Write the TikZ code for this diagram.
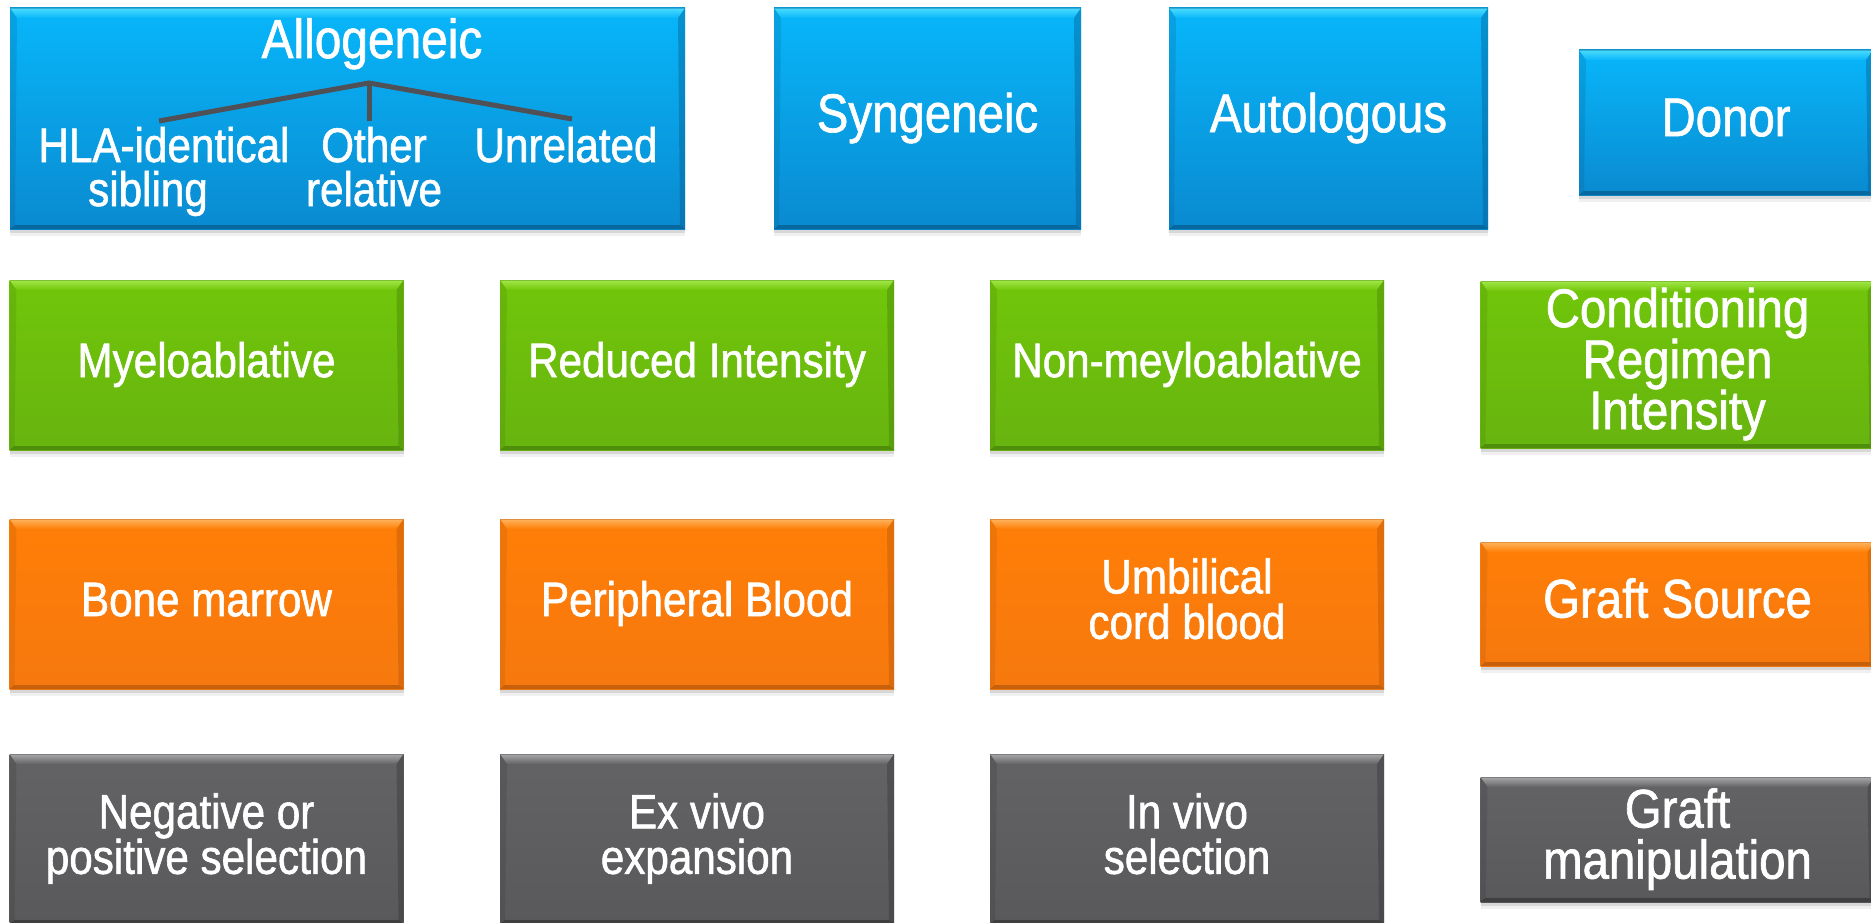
\documentclass[tikz,border=0pt]{standalone}
\usepackage{fontspec}
\setmainfont{Liberation Sans}[FakeStretch=0.87, FakeBold=1.2]
\usetikzlibrary{shadows}

% tile palettes: top, bottom, bevel highlight, bevel shade
\definecolor{blueA}{HTML}{08B6FA}\definecolor{blueB}{HTML}{0A8AD0}
\definecolor{blueHi}{HTML}{4CDCFF}\definecolor{blueLo}{HTML}{05507F}
\definecolor{greenA}{HTML}{71C60A}\definecolor{greenB}{HTML}{67B40F}
\definecolor{greenHi}{HTML}{A2E848}\definecolor{greenLo}{HTML}{3F7508}
\definecolor{orangeA}{HTML}{FF7E06}\definecolor{orangeB}{HTML}{F6790F}
\definecolor{orangeHi}{HTML}{FFB45E}\definecolor{orangeLo}{HTML}{A9500A}
\definecolor{grayA}{HTML}{636365}\definecolor{grayB}{HTML}{59595B}
\definecolor{grayHi}{HTML}{A8A8AA}\definecolor{grayLo}{HTML}{2F2F31}
\definecolor{branchcol}{HTML}{4F5157}

% strut: 0.75em above, 0.25em below the baseline
\newcommand\ts{\rule[-0.25em]{0pt}{1em}}
\newcommand\smallfont{\fontsize{48.5}{45.4}\selectfont\lineskiplimit=-1000pt\relax}
\newcommand\bigfont{\fontsize{54.5}{51}\selectfont\lineskiplimit=-1000pt\relax}

\tikzset{
  tile/.style n args={4}{rectangle, inner sep=0pt, text=white, align=center,
    font=\smallfont, top color=#1, bottom color=#2,
    drop shadow={shadow xshift=0pt, shadow yshift=-7pt, opacity=.12},
    drop shadow={shadow xshift=0pt, shadow yshift=-3.5pt, opacity=.22},
    /utils/exec={\colorlet{bvbase}{#1}\colorlet{bvhi}{#3}\colorlet{bvlo}{#4}},
    path picture={
      \coordinate (nw) at (path picture bounding box.north west);
      \coordinate (ne) at (path picture bounding box.north east);
      \coordinate (sw) at (path picture bounding box.south west);
      \coordinate (se) at (path picture bounding box.south east);
      \shade[top color=bvhi, bottom color=bvbase] (nw) -- (ne) -- ([xshift=-7pt,yshift=-10pt]ne) -- ([xshift=7pt,yshift=-10pt]nw) -- cycle;
      \fill[bvlo, opacity=.6] (sw) -- (se) -- ([xshift=-5pt,yshift=4pt]se) -- ([xshift=5pt,yshift=4pt]sw) -- cycle;
      \fill[bvlo, opacity=.35] (ne) -- ([xshift=-7pt,yshift=-10pt]ne) -- ([xshift=-5pt,yshift=4pt]se) -- (se) -- cycle;
      \fill[bvlo, opacity=.18] (nw) -- ([xshift=7pt,yshift=-10pt]nw) -- ([xshift=5pt,yshift=4pt]sw) -- (sw) -- cycle;
      \draw[bvlo, opacity=.35, line width=1.5pt] (nw) -- (ne);
    }},
  bluetile/.style={tile={blueA}{blueB}{blueHi}{blueLo}},
  greentile/.style={tile={greenA}{greenB}{greenHi}{greenLo}},
  orangetile/.style={tile={orangeA}{orangeB}{orangeHi}{orangeLo}},
  graytile/.style={tile={grayA}{grayB}{grayHi}{grayLo}},
  cell/.style={minimum width=394pt, minimum height=170pt},
  lbl/.style={text=white, inner sep=0pt, anchor=base, font=\smallfont},
  branch/.style={draw=branchcol, line width=5pt},
}

\begin{document}
\begin{tikzpicture}[x=1pt, y=-1pt]
\useasboundingbox (0,0) rectangle (1871,923);
\clip (0,0) rectangle (1871,923);

% donor types
\node[bluetile, minimum width=675pt, minimum height=221pt] (allo) at (347.5,118.5) {};
\node[lbl, font=\fontsize{55}{51}\selectfont] (allotitle) at (372,58) {Allogeneic};
\node[lbl] (hla) at (164,162) {HLA-identical};
\node[lbl] (sib) at (148,206) {sibling};
\node[lbl] (oth) at (374,162) {Other};
\node[lbl] (rel) at (374,206) {relative};
\node[lbl] (unrel) at (566,162) {Unrelated};
\coordinate (apex) at (369,83);
\coordinate (hlaend) at (159,121);
\coordinate (othend) at (369,121);
\coordinate (unrelend) at (572,119);
\draw[branch] (hlaend) -- (apex) -- (unrelend);
\draw[branch] (apex) -- (othend);

\node[bluetile, minimum width=307pt, minimum height=221pt, font=\bigfont] (syn) at (927.5,118.5) {\ts Syngeneic\ts};
\node[bluetile, minimum width=319pt, minimum height=221pt, font=\bigfont] (auto) at (1328.5,118.5) {\ts Autologous\ts};
\node[bluetile, minimum width=294pt, minimum height=145pt, font=\bigfont] (donor) at (1726,122.5) {\ts Donor\ts};

% conditioning regimen
\node[greentile, cell] (myelo) at (206.5,365) {\ts Myeloablative\ts};
\node[greentile, cell] (ric) at (697,365) {\ts Reduced Intensity\ts};
\node[greentile, cell] (nma) at (1187,365) {\ts Non-meyloablative\ts};
\node[greentile, minimum width=394pt, minimum height=167pt, font=\bigfont] (cond) at (1677.5,364.5) {\ts Conditioning\\Regimen\\Intensity\ts};

% graft source
\node[orangetile, cell] (bm) at (206.5,604) {\ts Bone marrow\ts};
\node[orangetile, cell] (pb) at (697,604) {\ts Peripheral Blood\ts};
\node[orangetile, cell] (ucb) at (1187,604) {\ts Umbilical\\cord blood\ts};
\node[orangetile, minimum width=394pt, minimum height=124pt, font=\bigfont] (gsrc) at (1677.5,604) {\ts Graft Source\ts};

% graft manipulation
\node[graytile, cell] (sel) at (206.5,839) {\ts Negative or\\positive selection\ts};
\node[graytile, cell] (exv) at (697,839) {\ts Ex vivo\\expansion\ts};
\node[graytile, cell] (inv) at (1187,839) {\ts In vivo\\selection\ts};
\node[graytile, minimum width=394pt, minimum height=125pt, font=\bigfont] (gman) at (1677.5,839.5) {\ts Graft\\manipulation\ts};
\end{tikzpicture}
\end{document}
